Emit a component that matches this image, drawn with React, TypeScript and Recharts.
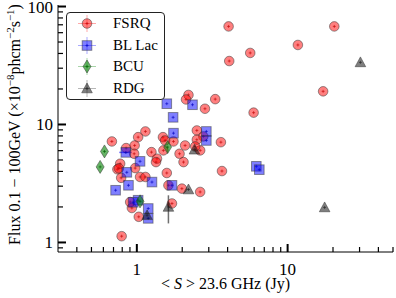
import { ErrorBar, Legend, Scatter, ScatterChart, XAxis, YAxis } from 'recharts'

// <S> 23.6 GHz (Jy), Flux 0.1-100 GeV (1e-8 ph cm^-2 s^-1)
const FSRQ: [number, number][] = [
  [4.06, 67.8], [20.4, 67.8], [11.7, 47.2], [5.65, 40.4], [4.1, 34.5], [17.2, 19.1],
  [3.31, 16.4], [2.83, 13.6], [5.95, 12.6], [3.61, 7.08], [3.67, 4.03], [2.63, 2.68],
  [2.2, 17.8], [2.12, 16.3], [2.5, 8.9], [2.76, 7.92], [2.63, 6.03], [1.14, 8.73],
  [1.02, 7.81], [0.683, 7.18], [0.849, 6.31], [0.967, 6.64], [0.96, 5.65], [1.25, 5.83],
  [1.36, 5.13], [1.34, 4.8], [1.49, 7.81], [1.54, 7.32], [1.5, 6.03], [1.75, 7.18],
  [2.09, 6.64], [1.92, 5.65], [2.04, 4.8], [2.5, 7.43], [2.44, 6.52], [0.775, 4.65],
  [0.743, 4.17], [0.76, 4.25], [0.787, 3.53], [0.975, 4.27], [1.05, 3.59], [1.14, 3.59],
  [1.58, 3.88], [1.62, 3.05], [1.99, 2.86], [0.903, 2.2], [0.927, 1.96], [1.03, 1.65],
  [1.71, 2.14], [0.793, 1.13],
]
const BLLAC: [number, number][] = [
  [1.58, 15.0], [2.34, 14.7], [1.74, 11.5], [1.75, 8.44], [2.89, 8.73], [2.89, 7.32],
  [6.2, 4.42], [6.49, 4.14], [0.845, 5.8], [1.05, 4.87], [0.858, 3.93], [1.26, 3.25],
  [0.723, 2.77], [0.88, 3.05], [1.71, 3.05], [1.02, 2.28], [1.19, 1.94], [1.19, 1.6],
  [0.945, 2.19],
]
const BLLAC_SERR = [0, 0, 0, 0, 0, 0, 0, 0, 0.08, 0, 0, 0, 0, 0, 0, 0, 0, 0, 0]
const BCU: [number, number][] = [[0.61, 5.91], [0.571, 4.37], [1.6, 6.43], [1.05, 2.23]]
const RDG: [number, number][] = [
  [2.41, 6.11], [2.2, 2.81], [1.62, 2.0], [1.17, 1.7], [30.4, 33.6], [17.6, 1.98],
]
const RDG_FERR: (number | [number, number])[] = [0, 0, [0.55, 0.51], 0, 0, 0]

const X_TICKS = [0.4, 0.5, 0.6, 0.7, 0.8, 0.9, 1, 2, 3, 4, 5, 6, 7, 8, 9, 10, 20, 30, 40, 50]
const Y_TICKS = [0.9, 1, 2, 3, 4, 5, 6, 7, 8, 9, 10, 20, 30, 40, 50, 60, 70, 80, 90, 100]
const X_MAJOR = [1, 10]
const Y_MAJOR = [1, 10, 100]

const FONT = '"Liberation Serif", "Times New Roman", serif'
const EDGE = '#333'

function Cross({ cx, cy, color }: any) {
  return (
    <g stroke={color} strokeOpacity={0.6} strokeWidth={1}>
      <line x1={cx - 1.5} x2={cx + 1.5} y1={cy} y2={cy} />
      <line x1={cx} x2={cx} y1={cy - 1.5} y2={cy + 1.5} />
    </g>
  )
}

function Dot({ cx, cy }: any) {
  return (
    <g>
      <circle cx={cx} cy={cy} r={4.8} fill="#ff0000" fillOpacity={0.5} stroke={EDGE} strokeOpacity={0.5} />
      <Cross cx={cx} cy={cy} color="#c00000" />
    </g>
  )
}

function Square({ cx, cy }: any) {
  return (
    <g>
      <rect x={cx - 4.8} y={cy - 4.8} width={9.6} height={9.6} fill="#0000ff" fillOpacity={0.5} stroke={EDGE} strokeOpacity={0.5} />
      <Cross cx={cx} cy={cy} color="#0000c0" />
    </g>
  )
}

function Diamond({ cx, cy }: any) {
  return (
    <g>
      <path d={`M${cx},${cy - 6.5}L${cx + 4},${cy}L${cx},${cy + 6.5}L${cx - 4},${cy}Z`} fill="#008000" fillOpacity={0.6} stroke={EDGE} strokeOpacity={0.5} />
      <Cross cx={cx} cy={cy} color="#006000" />
    </g>
  )
}

function Triangle({ cx, cy }: any) {
  return (
    <g>
      <path d={`M${cx},${cy - 5.5}L${cx + 5.3},${cy + 4.3}L${cx - 5.3},${cy + 4.3}Z`} fill="#000000" fillOpacity={0.5} stroke={EDGE} strokeOpacity={0.5} />
      <Cross cx={cx} cy={cy} color="#222" />
    </g>
  )
}

const ENTRIES = [
  { label: 'FSRQ', Shape: Dot, color: '#ff4040' },
  { label: 'BL Lac', Shape: Square, color: '#4040ff' },
  { label: 'BCU', Shape: Diamond, color: '#40a040' },
  { label: 'RDG', Shape: Triangle, color: '#606060' },
]

function LegendBox() {
  return (
    <div style={{ border: '1px solid #222', borderRadius: 4, background: '#fff', width: 97, fontFamily: FONT, fontSize: 15, textAlign: 'left' }}>
      {ENTRIES.map(({ label, Shape, color }) => (
        <div key={label} style={{ display: 'flex', alignItems: 'center', height: 21.5 }}>
          <svg width={46} height={21} style={{ flex: 'none' }}>
            <g stroke={color} strokeOpacity={0.45} strokeWidth={1}>
              <line x1={11} x2={29} y1={10.5} y2={10.5} />
              <line x1={20} x2={20} y1={2} y2={19} />
            </g>
            <Shape cx={20} cy={10.5} />
          </svg>
          <span style={{ color: '#000' }}>{label}</span>
        </div>
      ))}
    </div>
  )
}

function XTick({ x, y, payload, side }: any) {
  const major = X_MAJOR.includes(payload.value)
  const len = major ? 8 : 5
  const dir = side === 'top' ? 1 : -1
  return (
    <g>
      <line x1={x} x2={x} y1={y} y2={y + dir * len} stroke="#000" strokeWidth={major ? 2 : 1.2} />
      {side === 'bottom' && major && (
        <text x={x} y={y + 23} textAnchor="middle" fontFamily={FONT} fontSize={17} fill="#000">
          {payload.value}
        </text>
      )}
    </g>
  )
}

function YTick({ x, y, payload, side }: any) {
  const major = Y_MAJOR.includes(payload.value)
  const len = major ? 8 : 5
  const dir = side === 'left' ? 1 : -1
  return (
    <g>
      <line x1={x} x2={x + dir * len} y1={y} y2={y} stroke="#000" strokeWidth={major ? 2 : 1.2} />
      {side === 'left' && major && (
        <text x={x - 5} y={y + 6} textAnchor="end" fontFamily={FONT} fontSize={17} fill="#000">
          {payload.value}
        </text>
      )}
    </g>
  )
}

function XLabel({ viewBox }: any) {
  const cx = viewBox.x + viewBox.width / 2
  return (
    <text x={cx} y={viewBox.y + 37} textAnchor="middle" fontFamily={FONT} fontSize={16} fill="#000">
      {'< '}
      <tspan fontStyle="italic">S</tspan>
      {' > 23.6 GHz (Jy)'}
    </text>
  )
}

function YLabel({ viewBox }: any) {
  const cx = 19.5
  const cy = viewBox.y + viewBox.height / 2 - 4
  return (
    <text x={cx} y={cy} transform={`rotate(-90, ${cx}, ${cy})`} textAnchor="middle" fontFamily={FONT} fontSize={16} fill="#000">
      Flux 0.1 − 100GeV (×10
      <tspan dy={-6} fontSize={11}>−8</tspan>
      <tspan dy={6}>phcm</tspan>
      <tspan dy={-6} fontSize={11}>−2</tspan>
      <tspan dy={6}>s</tspan>
      <tspan dy={-6} fontSize={11}>−1</tspan>
      <tspan dy={6}>)</tspan>
    </text>
  )
}

const toData = (pts: [number, number][]) => pts.map(([s, f]) => ({ s, f }))

export default function App() {
  const axisLine = { stroke: '#000', strokeWidth: 1 }
  const xDomain = [0.3, 50]
  const yDomain = [0.83, 103]
  return (
    <div style={{ position: 'absolute', left: 0, top: 0, background: '#fff' }}>
      <ScatterChart width={396} height={298} margin={{ top: 5, right: 3, bottom: 0, left: 0 }}>
        <XAxis
          dataKey="s" type="number" scale="log" domain={xDomain} allowDataOverflow ticks={X_TICKS} interval={0}
          height={46} tickSize={0} tickMargin={0} tickLine={false} axisLine={axisLine}
          tick={(p: any) => <XTick {...p} side="bottom" />}
          label={(p: any) => <XLabel {...p} />}
        />
        <XAxis
          xAxisId="top" orientation="top" dataKey="s" type="number" scale="log" domain={xDomain} allowDataOverflow
          ticks={X_TICKS} interval={0} height={0} tickSize={0} tickMargin={0} tickLine={false} axisLine={axisLine}
          tick={(p: any) => <XTick {...p} side="top" />}
        />
        <YAxis
          dataKey="f" type="number" scale="log" domain={yDomain} allowDataOverflow ticks={Y_TICKS} interval={0}
          width={58} tickSize={0} tickMargin={0} tickLine={false} axisLine={axisLine}
          tick={(p: any) => <YTick {...p} side="left" />}
          label={(p: any) => <YLabel {...p} />}
        />
        <YAxis
          yAxisId="right" orientation="right" dataKey="f" type="number" scale="log" domain={yDomain} allowDataOverflow
          ticks={Y_TICKS} interval={0} width={0} tickSize={0} tickMargin={0} tickLine={false} axisLine={axisLine}
          tick={(p: any) => <YTick {...p} side="right" />}
        />
        <Scatter data={toData(FSRQ)} shape={Dot} isAnimationActive={false} />
        <Scatter data={BLLAC.map(([s, f], i) => ({ s, f, se: BLLAC_SERR[i] }))} shape={Square} isAnimationActive={false}>
          <ErrorBar dataKey="se" direction="x" width={0} stroke="#0000ff" strokeOpacity={0.6} isAnimationActive={false} />
        </Scatter>
        <Scatter data={toData(BCU)} shape={Diamond} isAnimationActive={false} />
        <Scatter data={RDG.map(([s, f], i) => ({ s, f, fe: RDG_FERR[i] }))} shape={Triangle} isAnimationActive={false}>
          <ErrorBar dataKey="fe" direction="y" width={0} stroke="#333" strokeOpacity={0.7} isAnimationActive={false} />
        </Scatter>
        <Legend
          layout="horizontal" verticalAlign="middle" align="center"
          content={() => <LegendBox />}
          wrapperStyle={{ position: 'absolute', left: 66, top: 12, width: 99, bottom: 'auto' }}
        />
      </ScatterChart>
    </div>
  )
}
